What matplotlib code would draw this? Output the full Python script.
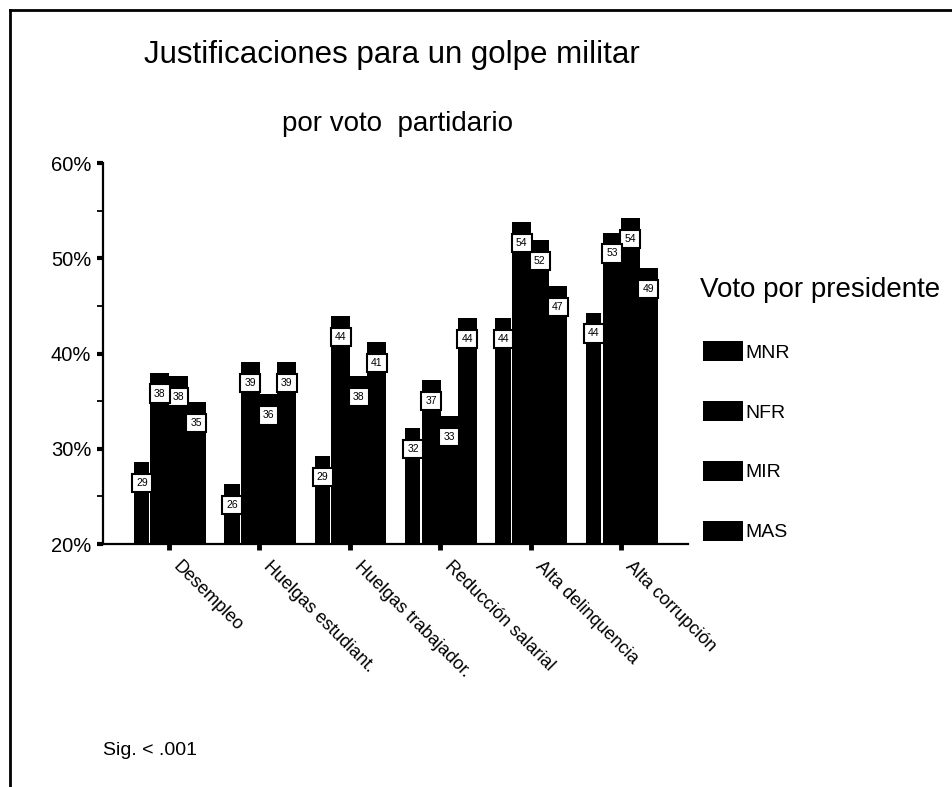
import numpy as np
import matplotlib
matplotlib.use('Agg')
import matplotlib.pyplot as plt
import matplotlib.transforms as mtrans
from matplotlib.lines import Line2D

plt.rcParams['font.family'] = ['Liberation Sans', 'DejaVu Sans']

# datos (porcentajes)
categorias = ['Desempleo', 'Huelgas estudiant.', 'Huelgas trabajador.',
              'Reducción salarial', 'Alta delinquencia', 'Alta corrupción']
partidos = ['MNR', 'NFR', 'MIR', 'MAS']
MNR = [28.6, 26.3, 29.2, 32.2, 43.7, 44.3]
NFR = [38.0, 39.1, 43.9, 37.2, 53.8, 52.7]
MIR = [37.6, 35.7, 37.6, 33.4, 51.9, 54.2]
MAS = [34.9, 39.1, 41.2, 43.7, 47.1, 49.0]
series = [MNR, NFR, MIR, MAS]

W, H = 952, 787
fig = plt.figure(figsize=(W / 100, H / 100), dpi=100)

def px(x0, y0, x1, y1):
    return [x0 / W, 1 - y1 / H, (x1 - x0) / W, (y1 - y0) / H]

ax = fig.add_axes(px(103, 163, 688, 544))

x = np.arange(len(categorias))
desp = [-0.305, -0.1, 0.1, 0.3]
anchos = [0.17, 0.21, 0.21, 0.21]
centros = [-0.3, -0.1, 0.1, 0.3]

barras = []
for i in range(4):
    b = ax.bar(x + desp[i], series[i], anchos[i], color='black',
               linewidth=0, label=partidos[i], zorder=2 + i)
    barras.append(b)

# etiquetas de valores
for i in [3, 2, 1, 0]:
    for j, v in enumerate(series[i]):
        ax.text(x[j] + centros[i], v - 2.2, '%d' % round(v),
                ha='center', va='center', fontsize=7.5, zorder=10,
                bbox=dict(boxstyle='square,pad=0.4', fc='white', ec='black', lw=1.5))

ax.set_xlim(-0.73, 5.74)
ax.set_ylim(20, 60)
ax.set_yticks([20, 30, 40, 50, 60])
ax.set_yticklabels(['20%', '30%', '40%', '50%', '60%'], fontsize=14.5)
ax.set_yticks([25, 35, 45, 55], minor=True)
ax.tick_params(axis='y', which='major', length=4.5, width=3, pad=4)
ax.tick_params(axis='y', which='minor', length=4.5, width=1.3)
ax.set_xticks(x)
ax.set_xticklabels(categorias, rotation=-45, ha='left', va='top',
                   rotation_mode='anchor', fontsize=13)
ax.tick_params(axis='x', length=4, width=3.5, pad=6)
for lab in ax.get_xticklabels():
    lab.set_transform(lab.get_transform() + mtrans.ScaledTranslation(13 / 100, 0, fig.dpi_scale_trans))

for s in ['top', 'right']:
    ax.spines[s].set_visible(False)
ax.spines['left'].set_linewidth(1.6)
ax.spines['bottom'].set_linewidth(1.6)

# titulos
fig.text(392 / W, 1 - 63 / H, 'Justificaciones para un golpe militar',
         ha='center', va='baseline', fontsize=22.5)
fig.text(397 / W, 1 - 131 / H, 'por voto  partidario',
         ha='center', va='baseline', fontsize=20)
fig.text(103 / W, 1 - 755 / H, 'Sig. < .001', ha='left', va='baseline', fontsize=14)

# leyenda
fig.text(700 / W, 1 - 297 / H, 'Voto por presidente', ha='left', va='baseline', fontsize=20)
leg = ax.legend(handles=barras, labels=partidos,
                loc='upper left', bbox_to_anchor=(703 / W, 1 - 341 / H),
                bbox_transform=fig.transFigure, frameon=False, fontsize=14,
                borderpad=0, handlelength=2.06, handleheight=1.24,
                handletextpad=0.1, labelspacing=2.01, borderaxespad=0)

# marco
fig.add_artist(Line2D([10 / W, 1], [1 - 10 / H, 1 - 10 / H], color='black', lw=2))
fig.add_artist(Line2D([10 / W, 10 / W], [0, 1 - 10 / H], color='black', lw=2))

fig.savefig('out.png', dpi=100)
